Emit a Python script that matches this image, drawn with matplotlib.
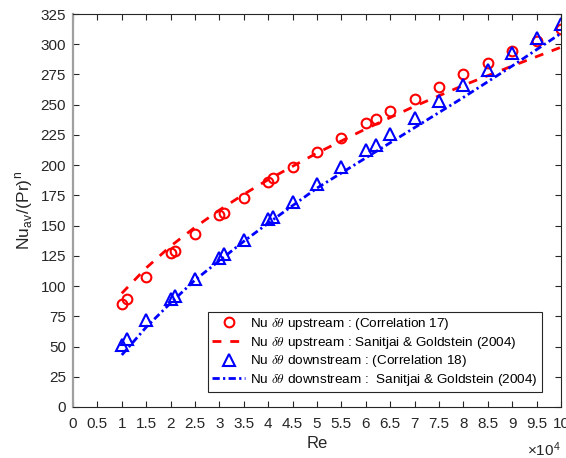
import matplotlib.pyplot as plt
import numpy as np

# measured points (Nu_av / Pr^n)
re_pts = [10000, 11000, 15000, 20000, 21000, 25000, 30000, 31000, 35000, 40000, 41000,
          45000, 50000, 55000, 60000, 62000, 65000, 70000, 75000, 80000, 85000, 90000,
          95000, 100000]
nu_up = [85, 89, 107.5, 127, 129, 143, 158.5, 160.7, 172.8, 186.4, 189, 198.8, 211,
         222.7, 235, 238, 245, 255, 264.5, 275, 284.8, 294.7, 303, 312.6]
nu_down = [51, 56, 72, 89, 92, 106, 123, 126.5, 138, 155.5, 157.5, 169.8, 184.4, 198.3,
           212.6, 216.7, 225.8, 239, 253, 266, 278.7, 293, 305, 317]

# Sanitjai & Goldstein (2004) curves
re_line = [10000, 15000, 20000, 25000, 30000, 35000, 40000, 50000, 60000, 70000,
           80000, 90000, 100000]
sg_up = [94, 115, 133, 148.6, 162.8, 175.9, 188, 210, 230, 248.7, 266, 282, 297.5]
sg_down = [43, 66, 86, 105, 121, 137, 152, 181, 206, 231, 256, 282, 309]

plt.rcParams['font.family'] = ['Liberation Sans', 'DejaVu Sans']
plt.rcParams['mathtext.fontset'] = 'cm'

fig = plt.figure(figsize=(5.66, 4.58), dpi=100)
ax = fig.add_axes([0.129, 0.1114, 0.862, 0.858])

ax.plot(re_pts, nu_up, 'o', color='red', mfc='none', ms=7, mew=1.5,
        label=r'Nu $\delta\theta$ upstream : (Correlation 17)')
ax.plot(re_line, sg_up, color='red', lw=2, dashes=(3.2, 3.2),
        label=r'Nu $\delta\theta$ upstream : Sanitjai & Goldstein (2004)')
ax.plot(re_pts, nu_down, '^', color='blue', mfc='none', ms=8.5, mew=1.5,
        label=r'Nu $\delta\theta$ downstream : (Correlation 18)')
ax.plot(re_line, sg_down, color='blue', lw=2, dashes=(2.6, 1.2, 0.8, 1.2),
        label=r'Nu $\delta\theta$ downstream :  Sanitjai & Goldstein (2004)')

ax.set_xlim(0, 100000)
ax.set_ylim(0, 325)
xt = np.arange(0, 100001, 5000)
ax.set_xticks(xt, [f'{v / 1e4:g}' for v in xt])
ax.set_yticks(np.arange(0, 326, 25))
ax.tick_params(direction='in', top=True, right=True, length=4, width=0.8,
               labelsize=11, colors='#262626')
ax.tick_params(axis='x', pad=7)
ax.tick_params(axis='y', pad=5)

for side in ['top', 'right', 'bottom']:
    ax.spines[side].set_color('#262626')
    ax.spines[side].set_linewidth(0.8)
ax.spines['left'].set_color('#a0a0a0')
ax.spines['left'].set_linewidth(1.6)

ax.set_xlabel('Re', fontsize=12, color='#262626', labelpad=4)
ax.set_ylabel(r'Nu$_{\mathregular{av}}$/(Pr)$^{\mathregular{n}}$', fontsize=12.5,
              color='#262626', labelpad=3)
ax.text(1.0, -0.086, r'$\mathregular{\times10^4}$', transform=ax.transAxes,
        ha='right', va='top', fontsize=11, color='#262626')

leg = ax.legend(loc='lower right', bbox_to_anchor=(0.961, 0.038), fontsize=9.7,
                fancybox=False, framealpha=1, edgecolor='#262626', handlelength=2.45,
                handletextpad=0.37, borderpad=0.3, labelspacing=0.2, borderaxespad=0)
leg.get_frame().set_linewidth(0.8)

plt.savefig('out.png', dpi=100)
